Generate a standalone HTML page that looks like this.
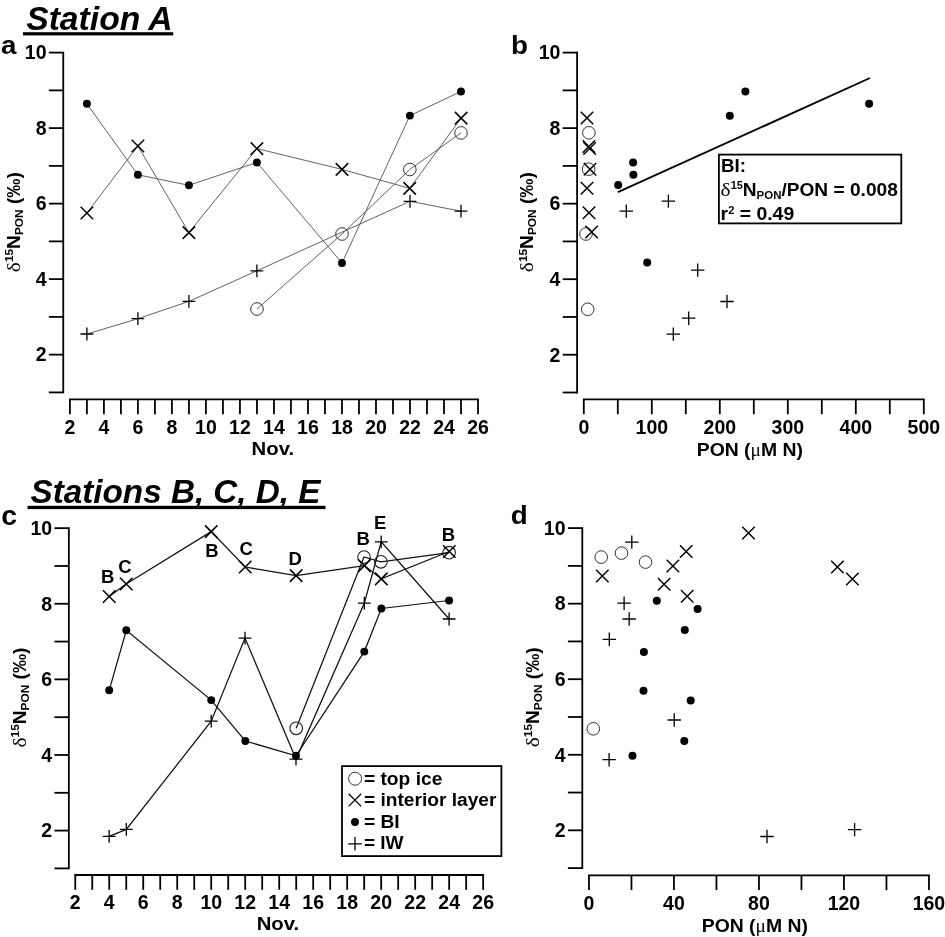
<!DOCTYPE html>
<html><head><meta charset="utf-8"><title>Figure</title>
<style>html,body{margin:0;padding:0;background:#fff;}svg{display:block;filter:grayscale(1) blur(0.3px);}</style>
</head><body>
<svg width="945" height="937" viewBox="0 0 945 937" font-family='"Liberation Sans", sans-serif' fill="#000">
<rect width="945" height="937" fill="#fff"/>
<text x="26.2" y="29.9" font-size="33" font-weight="bold" font-style="italic" textLength="146.5" lengthAdjust="spacingAndGlyphs">Station A</text>
<rect x="23.0" y="32.2" width="150.2" height="3.2" fill="#000"/>
<text x="30.5" y="503.3" font-size="33" font-weight="bold" font-style="italic" textLength="290" lengthAdjust="spacingAndGlyphs">Stations B, C, D, E</text>
<rect x="27.5" y="505.8" width="298" height="3.3" fill="#000"/>
<text transform="translate(1.00,54.30) scale(1.04,1)" font-size="26.7" font-weight="bold" font-style="normal" text-anchor="start" >a</text>
<text transform="translate(511.00,54.40) scale(1.04,1)" font-size="26.7" font-weight="bold" font-style="normal" text-anchor="start" >b</text>
<text transform="translate(1.30,524.50) scale(1.06,1)" font-size="26.7" font-weight="bold" font-style="normal" text-anchor="start" >c</text>
<text transform="translate(510.80,524.10) scale(1.04,1)" font-size="26.7" font-weight="bold" font-style="normal" text-anchor="start" >d</text>
<line x1="63.25" y1="51.70" x2="63.25" y2="393.30" stroke="#000" stroke-width="1.8"/>
<line x1="48.85" y1="392.40" x2="63.25" y2="392.40" stroke="#000" stroke-width="1.8"/>
<line x1="48.85" y1="354.64" x2="63.25" y2="354.64" stroke="#000" stroke-width="1.8"/>
<text transform="translate(46.50,361.44) scale(1.0,1)" font-size="19.5" font-weight="bold" font-style="normal" text-anchor="end" >2</text>
<line x1="48.85" y1="316.89" x2="63.25" y2="316.89" stroke="#000" stroke-width="1.8"/>
<line x1="48.85" y1="279.13" x2="63.25" y2="279.13" stroke="#000" stroke-width="1.8"/>
<text transform="translate(46.50,285.93) scale(1.0,1)" font-size="19.5" font-weight="bold" font-style="normal" text-anchor="end" >4</text>
<line x1="48.85" y1="241.38" x2="63.25" y2="241.38" stroke="#000" stroke-width="1.8"/>
<line x1="48.85" y1="203.62" x2="63.25" y2="203.62" stroke="#000" stroke-width="1.8"/>
<text transform="translate(46.50,210.42) scale(1.0,1)" font-size="19.5" font-weight="bold" font-style="normal" text-anchor="end" >6</text>
<line x1="48.85" y1="165.87" x2="63.25" y2="165.87" stroke="#000" stroke-width="1.8"/>
<line x1="48.85" y1="128.11" x2="63.25" y2="128.11" stroke="#000" stroke-width="1.8"/>
<text transform="translate(46.50,134.91) scale(1.0,1)" font-size="19.5" font-weight="bold" font-style="normal" text-anchor="end" >8</text>
<line x1="48.85" y1="90.36" x2="63.25" y2="90.36" stroke="#000" stroke-width="1.8"/>
<line x1="48.85" y1="52.60" x2="63.25" y2="52.60" stroke="#000" stroke-width="1.8"/>
<text transform="translate(46.50,59.40) scale(1.0,1)" font-size="19.5" font-weight="bold" font-style="normal" text-anchor="end" >10</text>
<line x1="69.00" y1="399.4" x2="478.90" y2="399.4" stroke="#000" stroke-width="1.8"/>
<line x1="69.90" y1="399.40" x2="69.90" y2="414.20" stroke="#000" stroke-width="1.8"/>
<text transform="translate(69.90,433.60) scale(1.0,1)" font-size="19.5" font-weight="bold" font-style="normal" text-anchor="middle" >2</text>
<line x1="86.90" y1="399.40" x2="86.90" y2="414.20" stroke="#000" stroke-width="1.8"/>
<line x1="103.91" y1="399.40" x2="103.91" y2="414.20" stroke="#000" stroke-width="1.8"/>
<text transform="translate(103.91,433.60) scale(1.0,1)" font-size="19.5" font-weight="bold" font-style="normal" text-anchor="middle" >4</text>
<line x1="120.91" y1="399.40" x2="120.91" y2="414.20" stroke="#000" stroke-width="1.8"/>
<line x1="137.92" y1="399.40" x2="137.92" y2="414.20" stroke="#000" stroke-width="1.8"/>
<text transform="translate(137.92,433.60) scale(1.0,1)" font-size="19.5" font-weight="bold" font-style="normal" text-anchor="middle" >6</text>
<line x1="154.92" y1="399.40" x2="154.92" y2="414.20" stroke="#000" stroke-width="1.8"/>
<line x1="171.93" y1="399.40" x2="171.93" y2="414.20" stroke="#000" stroke-width="1.8"/>
<text transform="translate(171.93,433.60) scale(1.0,1)" font-size="19.5" font-weight="bold" font-style="normal" text-anchor="middle" >8</text>
<line x1="188.93" y1="399.40" x2="188.93" y2="414.20" stroke="#000" stroke-width="1.8"/>
<line x1="205.93" y1="399.40" x2="205.93" y2="414.20" stroke="#000" stroke-width="1.8"/>
<text transform="translate(205.93,433.60) scale(1.0,1)" font-size="19.5" font-weight="bold" font-style="normal" text-anchor="middle" >10</text>
<line x1="222.94" y1="399.40" x2="222.94" y2="414.20" stroke="#000" stroke-width="1.8"/>
<line x1="239.94" y1="399.40" x2="239.94" y2="414.20" stroke="#000" stroke-width="1.8"/>
<text transform="translate(239.94,433.60) scale(1.0,1)" font-size="19.5" font-weight="bold" font-style="normal" text-anchor="middle" >12</text>
<line x1="256.95" y1="399.40" x2="256.95" y2="414.20" stroke="#000" stroke-width="1.8"/>
<line x1="273.95" y1="399.40" x2="273.95" y2="414.20" stroke="#000" stroke-width="1.8"/>
<text transform="translate(273.95,433.60) scale(1.0,1)" font-size="19.5" font-weight="bold" font-style="normal" text-anchor="middle" >14</text>
<line x1="290.95" y1="399.40" x2="290.95" y2="414.20" stroke="#000" stroke-width="1.8"/>
<line x1="307.96" y1="399.40" x2="307.96" y2="414.20" stroke="#000" stroke-width="1.8"/>
<text transform="translate(307.96,433.60) scale(1.0,1)" font-size="19.5" font-weight="bold" font-style="normal" text-anchor="middle" >16</text>
<line x1="324.96" y1="399.40" x2="324.96" y2="414.20" stroke="#000" stroke-width="1.8"/>
<line x1="341.97" y1="399.40" x2="341.97" y2="414.20" stroke="#000" stroke-width="1.8"/>
<text transform="translate(341.97,433.60) scale(1.0,1)" font-size="19.5" font-weight="bold" font-style="normal" text-anchor="middle" >18</text>
<line x1="358.97" y1="399.40" x2="358.97" y2="414.20" stroke="#000" stroke-width="1.8"/>
<line x1="375.98" y1="399.40" x2="375.98" y2="414.20" stroke="#000" stroke-width="1.8"/>
<text transform="translate(375.98,433.60) scale(1.0,1)" font-size="19.5" font-weight="bold" font-style="normal" text-anchor="middle" >20</text>
<line x1="392.98" y1="399.40" x2="392.98" y2="414.20" stroke="#000" stroke-width="1.8"/>
<line x1="409.98" y1="399.40" x2="409.98" y2="414.20" stroke="#000" stroke-width="1.8"/>
<text transform="translate(409.98,433.60) scale(1.0,1)" font-size="19.5" font-weight="bold" font-style="normal" text-anchor="middle" >22</text>
<line x1="426.99" y1="399.40" x2="426.99" y2="414.20" stroke="#000" stroke-width="1.8"/>
<line x1="443.99" y1="399.40" x2="443.99" y2="414.20" stroke="#000" stroke-width="1.8"/>
<text transform="translate(443.99,433.60) scale(1.0,1)" font-size="19.5" font-weight="bold" font-style="normal" text-anchor="middle" >24</text>
<line x1="461.00" y1="399.40" x2="461.00" y2="414.20" stroke="#000" stroke-width="1.8"/>
<line x1="478.00" y1="399.40" x2="478.00" y2="414.20" stroke="#000" stroke-width="1.8"/>
<text transform="translate(478.00,433.60) scale(1.0,1)" font-size="19.5" font-weight="bold" font-style="normal" text-anchor="middle" >26</text>
<text transform="translate(272.80,455.30) scale(1.07,1)" font-size="19" font-weight="bold" font-style="normal" text-anchor="middle" >Nov.</text>
<g transform="translate(19.50,222.20) rotate(-90)"><text x="0" y="0" text-anchor="middle" font-size="17.5" font-weight="bold" textLength="100.0" lengthAdjust="spacingAndGlyphs"><tspan font-family='"Liberation Serif", serif' font-weight="normal" font-size="19.6">δ</tspan><tspan font-size="10.85" dy="-6.2">15</tspan><tspan dy="6.2">N</tspan><tspan font-size="10.85" dy="3.2">PON</tspan><tspan dy="-3.2"> (‰)</tspan></text></g>
<polyline points="86.90,103.80 137.90,174.80 188.90,185.30 256.90,162.50 342.00,263.00 409.90,115.60 461.00,91.50" fill="none" stroke="#5a5a5a" stroke-width="0.95"/>
<polyline points="86.90,213.00 137.90,146.00 188.90,232.60 256.90,148.60 342.00,169.40 409.70,188.40 461.10,118.10" fill="none" stroke="#5a5a5a" stroke-width="0.95"/>
<polyline points="86.90,334.00 137.90,318.70 188.90,301.40 256.90,270.80 410.00,201.30 461.00,211.20" fill="none" stroke="#5a5a5a" stroke-width="0.95"/>
<polyline points="257.00,309.00 342.00,234.00 409.80,169.50 461.00,132.90" fill="none" stroke="#5a5a5a" stroke-width="0.95"/>
<circle cx="257.00" cy="309.00" r="6.3" fill="none" stroke="#333" stroke-width="1.0"/>
<circle cx="342.00" cy="234.00" r="6.3" fill="none" stroke="#333" stroke-width="1.0"/>
<circle cx="409.80" cy="169.50" r="6.3" fill="none" stroke="#333" stroke-width="1.0"/>
<circle cx="461.00" cy="132.90" r="6.3" fill="none" stroke="#333" stroke-width="1.0"/>
<circle cx="86.90" cy="103.80" r="3.95" fill="#000"/>
<circle cx="137.90" cy="174.80" r="3.95" fill="#000"/>
<circle cx="188.90" cy="185.30" r="3.95" fill="#000"/>
<circle cx="256.90" cy="162.50" r="3.95" fill="#000"/>
<circle cx="342.00" cy="263.00" r="3.95" fill="#000"/>
<circle cx="409.90" cy="115.60" r="3.95" fill="#000"/>
<circle cx="461.00" cy="91.50" r="3.95" fill="#000"/>
<path d="M80.65 206.75L93.15 219.25M80.65 219.25L93.15 206.75" stroke="#000" stroke-width="1.5" fill="none"/>
<path d="M131.65 139.75L144.15 152.25M131.65 152.25L144.15 139.75" stroke="#000" stroke-width="1.5" fill="none"/>
<path d="M182.65 226.35L195.15 238.85M182.65 238.85L195.15 226.35" stroke="#000" stroke-width="1.5" fill="none"/>
<path d="M250.65 142.35L263.15 154.85M250.65 154.85L263.15 142.35" stroke="#000" stroke-width="1.5" fill="none"/>
<path d="M335.75 163.15L348.25 175.65M335.75 175.65L348.25 163.15" stroke="#000" stroke-width="1.5" fill="none"/>
<path d="M403.45 182.15L415.95 194.65M403.45 194.65L415.95 182.15" stroke="#000" stroke-width="1.5" fill="none"/>
<path d="M454.85 111.85L467.35 124.35M454.85 124.35L467.35 111.85" stroke="#000" stroke-width="1.5" fill="none"/>
<path d="M80.50 334.00L93.30 334.00M86.90 327.60L86.90 340.40" stroke="#000" stroke-width="1.3" fill="none"/>
<path d="M131.50 318.70L144.30 318.70M137.90 312.30L137.90 325.10" stroke="#000" stroke-width="1.3" fill="none"/>
<path d="M182.50 301.40L195.30 301.40M188.90 295.00L188.90 307.80" stroke="#000" stroke-width="1.3" fill="none"/>
<path d="M250.50 270.80L263.30 270.80M256.90 264.40L256.90 277.20" stroke="#000" stroke-width="1.3" fill="none"/>
<path d="M403.60 201.30L416.40 201.30M410.00 194.90L410.00 207.70" stroke="#000" stroke-width="1.3" fill="none"/>
<path d="M454.60 211.20L467.40 211.20M461.00 204.80L461.00 217.60" stroke="#000" stroke-width="1.3" fill="none"/>
<line x1="577.1" y1="51.70" x2="577.1" y2="393.40" stroke="#000" stroke-width="1.8"/>
<line x1="562.70" y1="392.50" x2="577.10" y2="392.50" stroke="#000" stroke-width="1.8"/>
<line x1="562.70" y1="354.73" x2="577.10" y2="354.73" stroke="#000" stroke-width="1.8"/>
<text transform="translate(560.35,361.53) scale(1.0,1)" font-size="19.5" font-weight="bold" font-style="normal" text-anchor="end" >2</text>
<line x1="562.70" y1="316.97" x2="577.10" y2="316.97" stroke="#000" stroke-width="1.8"/>
<line x1="562.70" y1="279.20" x2="577.10" y2="279.20" stroke="#000" stroke-width="1.8"/>
<text transform="translate(560.35,286.00) scale(1.0,1)" font-size="19.5" font-weight="bold" font-style="normal" text-anchor="end" >4</text>
<line x1="562.70" y1="241.43" x2="577.10" y2="241.43" stroke="#000" stroke-width="1.8"/>
<line x1="562.70" y1="203.67" x2="577.10" y2="203.67" stroke="#000" stroke-width="1.8"/>
<text transform="translate(560.35,210.47) scale(1.0,1)" font-size="19.5" font-weight="bold" font-style="normal" text-anchor="end" >6</text>
<line x1="562.70" y1="165.90" x2="577.10" y2="165.90" stroke="#000" stroke-width="1.8"/>
<line x1="562.70" y1="128.13" x2="577.10" y2="128.13" stroke="#000" stroke-width="1.8"/>
<text transform="translate(560.35,134.93) scale(1.0,1)" font-size="19.5" font-weight="bold" font-style="normal" text-anchor="end" >8</text>
<line x1="562.70" y1="90.37" x2="577.10" y2="90.37" stroke="#000" stroke-width="1.8"/>
<line x1="562.70" y1="52.60" x2="577.10" y2="52.60" stroke="#000" stroke-width="1.8"/>
<text transform="translate(560.35,59.40) scale(1.0,1)" font-size="19.5" font-weight="bold" font-style="normal" text-anchor="end" >10</text>
<line x1="582.90" y1="399.4" x2="924.70" y2="399.4" stroke="#000" stroke-width="1.8"/>
<line x1="583.80" y1="399.40" x2="583.80" y2="414.20" stroke="#000" stroke-width="1.8"/>
<text transform="translate(583.80,433.60) scale(1.0,1)" font-size="19.5" font-weight="bold" font-style="normal" text-anchor="middle" >0</text>
<line x1="617.80" y1="399.40" x2="617.80" y2="414.20" stroke="#000" stroke-width="1.8"/>
<line x1="651.80" y1="399.40" x2="651.80" y2="414.20" stroke="#000" stroke-width="1.8"/>
<text transform="translate(651.80,433.60) scale(1.0,1)" font-size="19.5" font-weight="bold" font-style="normal" text-anchor="middle" >100</text>
<line x1="685.80" y1="399.40" x2="685.80" y2="414.20" stroke="#000" stroke-width="1.8"/>
<line x1="719.80" y1="399.40" x2="719.80" y2="414.20" stroke="#000" stroke-width="1.8"/>
<text transform="translate(719.80,433.60) scale(1.0,1)" font-size="19.5" font-weight="bold" font-style="normal" text-anchor="middle" >200</text>
<line x1="753.80" y1="399.40" x2="753.80" y2="414.20" stroke="#000" stroke-width="1.8"/>
<line x1="787.80" y1="399.40" x2="787.80" y2="414.20" stroke="#000" stroke-width="1.8"/>
<text transform="translate(787.80,433.60) scale(1.0,1)" font-size="19.5" font-weight="bold" font-style="normal" text-anchor="middle" >300</text>
<line x1="821.80" y1="399.40" x2="821.80" y2="414.20" stroke="#000" stroke-width="1.8"/>
<line x1="855.80" y1="399.40" x2="855.80" y2="414.20" stroke="#000" stroke-width="1.8"/>
<text transform="translate(855.80,433.60) scale(1.0,1)" font-size="19.5" font-weight="bold" font-style="normal" text-anchor="middle" >400</text>
<line x1="889.80" y1="399.40" x2="889.80" y2="414.20" stroke="#000" stroke-width="1.8"/>
<line x1="923.80" y1="399.40" x2="923.80" y2="414.20" stroke="#000" stroke-width="1.8"/>
<text transform="translate(923.80,433.60) scale(1.0,1)" font-size="19.5" font-weight="bold" font-style="normal" text-anchor="middle" >500</text>
<text transform="translate(749.8,456.2) scale(1.02,1)" font-size="19" font-weight="bold" text-anchor="middle">PON (<tspan font-family='"Liberation Serif", serif' font-weight="normal">μ</tspan>M N)</text>
<g transform="translate(533.00,222.20) rotate(-90)"><text x="0" y="0" text-anchor="middle" font-size="17.5" font-weight="bold" textLength="100.0" lengthAdjust="spacingAndGlyphs"><tspan font-family='"Liberation Serif", serif' font-weight="normal" font-size="19.6">δ</tspan><tspan font-size="10.85" dy="-6.2">15</tspan><tspan dy="6.2">N</tspan><tspan font-size="10.85" dy="3.2">PON</tspan><tspan dy="-3.2"> (‰)</tspan></text></g>
<circle cx="588.90" cy="132.80" r="6.3" fill="none" stroke="#333" stroke-width="1.0"/>
<circle cx="588.60" cy="169.20" r="6.3" fill="none" stroke="#333" stroke-width="1.0"/>
<circle cx="586.00" cy="234.00" r="6.3" fill="none" stroke="#333" stroke-width="1.0"/>
<circle cx="587.70" cy="309.30" r="6.3" fill="none" stroke="#333" stroke-width="1.0"/>
<path d="M580.75 111.75L593.25 124.25M580.75 124.25L593.25 111.75" stroke="#000" stroke-width="1.45" fill="none"/>
<path d="M582.65 140.25L595.15 152.75M582.65 152.75L595.15 140.25" stroke="#000" stroke-width="1.45" fill="none"/>
<path d="M583.35 142.15L595.85 154.65M583.35 154.65L595.85 142.15" stroke="#000" stroke-width="1.45" fill="none"/>
<path d="M583.75 163.05L596.25 175.55M583.75 175.55L596.25 163.05" stroke="#000" stroke-width="1.45" fill="none"/>
<path d="M580.75 181.95L593.25 194.45M580.75 194.45L593.25 181.95" stroke="#000" stroke-width="1.45" fill="none"/>
<path d="M582.75 206.55L595.25 219.05M582.75 219.05L595.25 206.55" stroke="#000" stroke-width="1.45" fill="none"/>
<path d="M585.35 225.85L597.85 238.35M585.35 238.35L597.85 225.85" stroke="#000" stroke-width="1.45" fill="none"/>
<circle cx="618.20" cy="185.10" r="4.0" fill="#000"/>
<circle cx="633.10" cy="162.40" r="4.0" fill="#000"/>
<circle cx="633.40" cy="174.70" r="4.0" fill="#000"/>
<circle cx="647.20" cy="262.40" r="4.0" fill="#000"/>
<circle cx="729.80" cy="115.70" r="4.0" fill="#000"/>
<circle cx="745.40" cy="91.60" r="4.0" fill="#000"/>
<circle cx="869.10" cy="103.80" r="4.0" fill="#000"/>
<path d="M619.60 211.10L633.00 211.10M626.30 204.40L626.30 217.80" stroke="#000" stroke-width="1.3" fill="none"/>
<path d="M661.70 201.10L675.10 201.10M668.40 194.40L668.40 207.80" stroke="#000" stroke-width="1.3" fill="none"/>
<path d="M691.00 270.10L704.40 270.10M697.70 263.40L697.70 276.80" stroke="#000" stroke-width="1.3" fill="none"/>
<path d="M720.30 301.50L733.70 301.50M727.00 294.80L727.00 308.20" stroke="#000" stroke-width="1.3" fill="none"/>
<path d="M682.00 318.20L695.40 318.20M688.70 311.50L688.70 324.90" stroke="#000" stroke-width="1.3" fill="none"/>
<path d="M666.60 334.10L680.00 334.10M673.30 327.40L673.30 340.80" stroke="#000" stroke-width="1.3" fill="none"/>
<line x1="617.9" y1="192.2" x2="870.0" y2="78.0" stroke="#000" stroke-width="1.9"/>
<rect x="718.9" y="154.6" width="182.4" height="68.8" fill="#fff" stroke="#000" stroke-width="1.8"/>
<text transform="translate(721.00,171.50) scale(1.07,1)" font-size="17.5" font-weight="bold" font-style="normal" text-anchor="start" >BI:</text>
<text x="720.6" y="196.0" font-size="17.5" font-weight="bold" textLength="177.2" lengthAdjust="spacingAndGlyphs"><tspan font-family='"Liberation Serif", serif' font-weight="normal" font-size="19.5">δ</tspan><tspan font-size="10.0" dy="-6.6">15</tspan><tspan dy="6.6">N</tspan><tspan font-size="10.5" dy="3.4">PON</tspan><tspan dy="-3.4">/PON = 0.008</tspan></text>
<text x="720.6" y="220.1" font-size="17.5" font-weight="bold" textLength="73.6" lengthAdjust="spacingAndGlyphs">r<tspan font-size="10.0" dy="-6.6">2</tspan><tspan dy="6.6"> = 0.49</tspan></text>
<line x1="68.85" y1="527.25" x2="68.85" y2="869.30" stroke="#000" stroke-width="1.8"/>
<line x1="54.45" y1="868.40" x2="68.85" y2="868.40" stroke="#000" stroke-width="1.8"/>
<line x1="54.45" y1="830.59" x2="68.85" y2="830.59" stroke="#000" stroke-width="1.8"/>
<text transform="translate(52.10,837.39) scale(1.0,1)" font-size="19.5" font-weight="bold" font-style="normal" text-anchor="end" >2</text>
<line x1="54.45" y1="792.79" x2="68.85" y2="792.79" stroke="#000" stroke-width="1.8"/>
<line x1="54.45" y1="754.98" x2="68.85" y2="754.98" stroke="#000" stroke-width="1.8"/>
<text transform="translate(52.10,761.78) scale(1.0,1)" font-size="19.5" font-weight="bold" font-style="normal" text-anchor="end" >4</text>
<line x1="54.45" y1="717.18" x2="68.85" y2="717.18" stroke="#000" stroke-width="1.8"/>
<line x1="54.45" y1="679.37" x2="68.85" y2="679.37" stroke="#000" stroke-width="1.8"/>
<text transform="translate(52.10,686.17) scale(1.0,1)" font-size="19.5" font-weight="bold" font-style="normal" text-anchor="end" >6</text>
<line x1="54.45" y1="641.57" x2="68.85" y2="641.57" stroke="#000" stroke-width="1.8"/>
<line x1="54.45" y1="603.76" x2="68.85" y2="603.76" stroke="#000" stroke-width="1.8"/>
<text transform="translate(52.10,610.56) scale(1.0,1)" font-size="19.5" font-weight="bold" font-style="normal" text-anchor="end" >8</text>
<line x1="54.45" y1="565.96" x2="68.85" y2="565.96" stroke="#000" stroke-width="1.8"/>
<line x1="54.45" y1="528.15" x2="68.85" y2="528.15" stroke="#000" stroke-width="1.8"/>
<text transform="translate(52.10,534.95) scale(1.0,1)" font-size="19.5" font-weight="bold" font-style="normal" text-anchor="end" >10</text>
<line x1="74.35" y1="875.0" x2="484.05" y2="875.0" stroke="#000" stroke-width="1.8"/>
<line x1="75.25" y1="875.00" x2="75.25" y2="889.80" stroke="#000" stroke-width="1.8"/>
<text transform="translate(75.25,909.20) scale(1.0,1)" font-size="19.5" font-weight="bold" font-style="normal" text-anchor="middle" >2</text>
<line x1="92.25" y1="875.00" x2="92.25" y2="889.80" stroke="#000" stroke-width="1.8"/>
<line x1="109.24" y1="875.00" x2="109.24" y2="889.80" stroke="#000" stroke-width="1.8"/>
<text transform="translate(109.24,909.20) scale(1.0,1)" font-size="19.5" font-weight="bold" font-style="normal" text-anchor="middle" >4</text>
<line x1="126.24" y1="875.00" x2="126.24" y2="889.80" stroke="#000" stroke-width="1.8"/>
<line x1="143.23" y1="875.00" x2="143.23" y2="889.80" stroke="#000" stroke-width="1.8"/>
<text transform="translate(143.23,909.20) scale(1.0,1)" font-size="19.5" font-weight="bold" font-style="normal" text-anchor="middle" >6</text>
<line x1="160.23" y1="875.00" x2="160.23" y2="889.80" stroke="#000" stroke-width="1.8"/>
<line x1="177.22" y1="875.00" x2="177.22" y2="889.80" stroke="#000" stroke-width="1.8"/>
<text transform="translate(177.22,909.20) scale(1.0,1)" font-size="19.5" font-weight="bold" font-style="normal" text-anchor="middle" >8</text>
<line x1="194.22" y1="875.00" x2="194.22" y2="889.80" stroke="#000" stroke-width="1.8"/>
<line x1="211.22" y1="875.00" x2="211.22" y2="889.80" stroke="#000" stroke-width="1.8"/>
<text transform="translate(211.22,909.20) scale(1.0,1)" font-size="19.5" font-weight="bold" font-style="normal" text-anchor="middle" >10</text>
<line x1="228.21" y1="875.00" x2="228.21" y2="889.80" stroke="#000" stroke-width="1.8"/>
<line x1="245.21" y1="875.00" x2="245.21" y2="889.80" stroke="#000" stroke-width="1.8"/>
<text transform="translate(245.21,909.20) scale(1.0,1)" font-size="19.5" font-weight="bold" font-style="normal" text-anchor="middle" >12</text>
<line x1="262.20" y1="875.00" x2="262.20" y2="889.80" stroke="#000" stroke-width="1.8"/>
<line x1="279.20" y1="875.00" x2="279.20" y2="889.80" stroke="#000" stroke-width="1.8"/>
<text transform="translate(279.20,909.20) scale(1.0,1)" font-size="19.5" font-weight="bold" font-style="normal" text-anchor="middle" >14</text>
<line x1="296.20" y1="875.00" x2="296.20" y2="889.80" stroke="#000" stroke-width="1.8"/>
<line x1="313.19" y1="875.00" x2="313.19" y2="889.80" stroke="#000" stroke-width="1.8"/>
<text transform="translate(313.19,909.20) scale(1.0,1)" font-size="19.5" font-weight="bold" font-style="normal" text-anchor="middle" >16</text>
<line x1="330.19" y1="875.00" x2="330.19" y2="889.80" stroke="#000" stroke-width="1.8"/>
<line x1="347.18" y1="875.00" x2="347.18" y2="889.80" stroke="#000" stroke-width="1.8"/>
<text transform="translate(347.18,909.20) scale(1.0,1)" font-size="19.5" font-weight="bold" font-style="normal" text-anchor="middle" >18</text>
<line x1="364.18" y1="875.00" x2="364.18" y2="889.80" stroke="#000" stroke-width="1.8"/>
<line x1="381.18" y1="875.00" x2="381.18" y2="889.80" stroke="#000" stroke-width="1.8"/>
<text transform="translate(381.18,909.20) scale(1.0,1)" font-size="19.5" font-weight="bold" font-style="normal" text-anchor="middle" >20</text>
<line x1="398.17" y1="875.00" x2="398.17" y2="889.80" stroke="#000" stroke-width="1.8"/>
<line x1="415.17" y1="875.00" x2="415.17" y2="889.80" stroke="#000" stroke-width="1.8"/>
<text transform="translate(415.17,909.20) scale(1.0,1)" font-size="19.5" font-weight="bold" font-style="normal" text-anchor="middle" >22</text>
<line x1="432.16" y1="875.00" x2="432.16" y2="889.80" stroke="#000" stroke-width="1.8"/>
<line x1="449.16" y1="875.00" x2="449.16" y2="889.80" stroke="#000" stroke-width="1.8"/>
<text transform="translate(449.16,909.20) scale(1.0,1)" font-size="19.5" font-weight="bold" font-style="normal" text-anchor="middle" >24</text>
<line x1="466.15" y1="875.00" x2="466.15" y2="889.80" stroke="#000" stroke-width="1.8"/>
<line x1="483.15" y1="875.00" x2="483.15" y2="889.80" stroke="#000" stroke-width="1.8"/>
<text transform="translate(483.15,909.20) scale(1.0,1)" font-size="19.5" font-weight="bold" font-style="normal" text-anchor="middle" >26</text>
<text transform="translate(277.90,930.30) scale(1.07,1)" font-size="19" font-weight="bold" font-style="normal" text-anchor="middle" >Nov.</text>
<g transform="translate(25.50,697.50) rotate(-90)"><text x="0" y="0" text-anchor="middle" font-size="17.5" font-weight="bold" textLength="100.0" lengthAdjust="spacingAndGlyphs"><tspan font-family='"Liberation Serif", serif' font-weight="normal" font-size="19.6">δ</tspan><tspan font-size="10.85" dy="-6.2">15</tspan><tspan dy="6.2">N</tspan><tspan font-size="10.85" dy="3.2">PON</tspan><tspan dy="-3.2"> (‰)</tspan></text></g>
<polyline points="109.20,596.50 126.20,584.00 211.20,531.60 245.20,567.00 296.10,575.60 364.40,565.60 381.30,578.90 449.30,551.50" fill="none" stroke="#111" stroke-width="1.25"/>
<polyline points="109.20,690.30 126.30,630.30 211.20,700.10 245.30,741.00 296.00,755.80 364.30,651.60 381.40,608.50 449.10,600.50" fill="none" stroke="#111" stroke-width="1.25"/>
<polyline points="109.20,836.30 126.30,829.40 211.20,721.20 245.00,638.10 296.00,759.10 364.30,603.20 381.20,541.80 449.10,619.00" fill="none" stroke="#111" stroke-width="1.25"/>
<polyline points="296.20,728.30 364.00,557.00 380.90,561.80 449.10,552.70" fill="none" stroke="#111" stroke-width="1.25"/>
<circle cx="296.20" cy="728.30" r="6.3" fill="none" stroke="#222" stroke-width="1.1"/>
<circle cx="364.00" cy="557.00" r="6.3" fill="none" stroke="#222" stroke-width="1.1"/>
<circle cx="380.90" cy="561.80" r="6.3" fill="none" stroke="#222" stroke-width="1.1"/>
<circle cx="449.10" cy="552.70" r="6.3" fill="none" stroke="#222" stroke-width="1.1"/>
<circle cx="109.20" cy="690.30" r="3.95" fill="#000"/>
<circle cx="126.30" cy="630.30" r="3.95" fill="#000"/>
<circle cx="211.20" cy="700.10" r="3.95" fill="#000"/>
<circle cx="245.30" cy="741.00" r="3.95" fill="#000"/>
<circle cx="296.00" cy="755.80" r="3.95" fill="#000"/>
<circle cx="364.30" cy="651.60" r="3.95" fill="#000"/>
<circle cx="381.40" cy="608.50" r="3.95" fill="#000"/>
<circle cx="449.10" cy="600.50" r="3.95" fill="#000"/>
<path d="M102.95 590.25L115.45 602.75M102.95 602.75L115.45 590.25" stroke="#000" stroke-width="1.5" fill="none"/>
<path d="M119.95 577.75L132.45 590.25M119.95 590.25L132.45 577.75" stroke="#000" stroke-width="1.5" fill="none"/>
<path d="M204.95 525.35L217.45 537.85M204.95 537.85L217.45 525.35" stroke="#000" stroke-width="1.5" fill="none"/>
<path d="M238.95 560.75L251.45 573.25M238.95 573.25L251.45 560.75" stroke="#000" stroke-width="1.5" fill="none"/>
<path d="M289.85 569.35L302.35 581.85M289.85 581.85L302.35 569.35" stroke="#000" stroke-width="1.5" fill="none"/>
<path d="M358.15 559.35L370.65 571.85M358.15 571.85L370.65 559.35" stroke="#000" stroke-width="1.5" fill="none"/>
<path d="M375.05 572.65L387.55 585.15M375.05 585.15L387.55 572.65" stroke="#000" stroke-width="1.5" fill="none"/>
<path d="M443.05 545.25L455.55 557.75M443.05 557.75L455.55 545.25" stroke="#000" stroke-width="1.5" fill="none"/>
<path d="M102.80 836.30L115.60 836.30M109.20 829.90L109.20 842.70" stroke="#000" stroke-width="1.3" fill="none"/>
<path d="M119.90 829.40L132.70 829.40M126.30 823.00L126.30 835.80" stroke="#000" stroke-width="1.3" fill="none"/>
<path d="M204.80 721.20L217.60 721.20M211.20 714.80L211.20 727.60" stroke="#000" stroke-width="1.3" fill="none"/>
<path d="M238.60 638.10L251.40 638.10M245.00 631.70L245.00 644.50" stroke="#000" stroke-width="1.3" fill="none"/>
<path d="M289.60 759.10L302.40 759.10M296.00 752.70L296.00 765.50" stroke="#000" stroke-width="1.3" fill="none"/>
<path d="M357.90 603.20L370.70 603.20M364.30 596.80L364.30 609.60" stroke="#000" stroke-width="1.3" fill="none"/>
<path d="M374.80 541.80L387.60 541.80M381.20 535.40L381.20 548.20" stroke="#000" stroke-width="1.3" fill="none"/>
<path d="M442.70 619.00L455.50 619.00M449.10 612.60L449.10 625.40" stroke="#000" stroke-width="1.3" fill="none"/>
<text transform="translate(107.60,582.70) scale(1.0,1)" font-size="18.5" font-weight="bold" font-style="normal" text-anchor="middle" >B</text>
<text transform="translate(125.00,572.50) scale(1.0,1)" font-size="18.5" font-weight="bold" font-style="normal" text-anchor="middle" >C</text>
<text transform="translate(211.90,557.40) scale(1.0,1)" font-size="18.5" font-weight="bold" font-style="normal" text-anchor="middle" >B</text>
<text transform="translate(246.30,555.20) scale(1.0,1)" font-size="18.5" font-weight="bold" font-style="normal" text-anchor="middle" >C</text>
<text transform="translate(295.30,565.00) scale(1.0,1)" font-size="18.5" font-weight="bold" font-style="normal" text-anchor="middle" >D</text>
<text transform="translate(363.30,544.90) scale(1.0,1)" font-size="18.5" font-weight="bold" font-style="normal" text-anchor="middle" >B</text>
<text transform="translate(380.20,529.00) scale(1.0,1)" font-size="18.5" font-weight="bold" font-style="normal" text-anchor="middle" >E</text>
<text transform="translate(448.50,540.50) scale(1.0,1)" font-size="18.5" font-weight="bold" font-style="normal" text-anchor="middle" >B</text>
<rect x="342.0" y="766.1" width="159.4" height="90.0" fill="#fff" stroke="#000" stroke-width="1.8"/>
<circle cx="355.10" cy="778.70" r="6.5" fill="none" stroke="#333" stroke-width="1.0"/>
<path d="M348.60 793.80L361.20 806.40M348.60 806.40L361.20 793.80" stroke="#000" stroke-width="1.3" fill="none"/>
<circle cx="355.00" cy="822.00" r="4.0" fill="#000"/>
<path d="M348.20 843.80L361.80 843.80M355.00 837.00L355.00 850.60" stroke="#000" stroke-width="1.3" fill="none"/>
<text x="363.9" y="784.5" font-size="18.3" font-weight="bold" textLength="78.5" lengthAdjust="spacingAndGlyphs">= top ice</text>
<text x="363.9" y="806.3" font-size="18.3" font-weight="bold" textLength="132.6" lengthAdjust="spacingAndGlyphs">= interior layer</text>
<text x="363.9" y="827.7" font-size="18.3" font-weight="bold" textLength="35.8" lengthAdjust="spacingAndGlyphs">= BI</text>
<text x="363.9" y="849.2" font-size="18.3" font-weight="bold" textLength="39.7" lengthAdjust="spacingAndGlyphs">= IW</text>
<line x1="582.3" y1="527.20" x2="582.3" y2="869.00" stroke="#000" stroke-width="1.8"/>
<line x1="567.90" y1="868.10" x2="582.30" y2="868.10" stroke="#000" stroke-width="1.8"/>
<line x1="567.90" y1="830.32" x2="582.30" y2="830.32" stroke="#000" stroke-width="1.8"/>
<text transform="translate(565.55,837.12) scale(1.0,1)" font-size="19.5" font-weight="bold" font-style="normal" text-anchor="end" >2</text>
<line x1="567.90" y1="792.54" x2="582.30" y2="792.54" stroke="#000" stroke-width="1.8"/>
<line x1="567.90" y1="754.77" x2="582.30" y2="754.77" stroke="#000" stroke-width="1.8"/>
<text transform="translate(565.55,761.57) scale(1.0,1)" font-size="19.5" font-weight="bold" font-style="normal" text-anchor="end" >4</text>
<line x1="567.90" y1="716.99" x2="582.30" y2="716.99" stroke="#000" stroke-width="1.8"/>
<line x1="567.90" y1="679.21" x2="582.30" y2="679.21" stroke="#000" stroke-width="1.8"/>
<text transform="translate(565.55,686.01) scale(1.0,1)" font-size="19.5" font-weight="bold" font-style="normal" text-anchor="end" >6</text>
<line x1="567.90" y1="641.43" x2="582.30" y2="641.43" stroke="#000" stroke-width="1.8"/>
<line x1="567.90" y1="603.66" x2="582.30" y2="603.66" stroke="#000" stroke-width="1.8"/>
<text transform="translate(565.55,610.46) scale(1.0,1)" font-size="19.5" font-weight="bold" font-style="normal" text-anchor="end" >8</text>
<line x1="567.90" y1="565.88" x2="582.30" y2="565.88" stroke="#000" stroke-width="1.8"/>
<line x1="567.90" y1="528.10" x2="582.30" y2="528.10" stroke="#000" stroke-width="1.8"/>
<text transform="translate(565.55,534.90) scale(1.0,1)" font-size="19.5" font-weight="bold" font-style="normal" text-anchor="end" >10</text>
<line x1="588.05" y1="875.3" x2="929.85" y2="875.3" stroke="#000" stroke-width="1.8"/>
<line x1="588.95" y1="875.30" x2="588.95" y2="890.10" stroke="#000" stroke-width="1.8"/>
<text transform="translate(588.95,909.50) scale(1.0,1)" font-size="19.5" font-weight="bold" font-style="normal" text-anchor="middle" >0</text>
<line x1="631.45" y1="875.30" x2="631.45" y2="890.10" stroke="#000" stroke-width="1.8"/>
<line x1="673.95" y1="875.30" x2="673.95" y2="890.10" stroke="#000" stroke-width="1.8"/>
<text transform="translate(673.95,909.50) scale(1.0,1)" font-size="19.5" font-weight="bold" font-style="normal" text-anchor="middle" >40</text>
<line x1="716.45" y1="875.30" x2="716.45" y2="890.10" stroke="#000" stroke-width="1.8"/>
<line x1="758.95" y1="875.30" x2="758.95" y2="890.10" stroke="#000" stroke-width="1.8"/>
<text transform="translate(758.95,909.50) scale(1.0,1)" font-size="19.5" font-weight="bold" font-style="normal" text-anchor="middle" >80</text>
<line x1="801.45" y1="875.30" x2="801.45" y2="890.10" stroke="#000" stroke-width="1.8"/>
<line x1="843.95" y1="875.30" x2="843.95" y2="890.10" stroke="#000" stroke-width="1.8"/>
<text transform="translate(843.95,909.50) scale(1.0,1)" font-size="19.5" font-weight="bold" font-style="normal" text-anchor="middle" >120</text>
<line x1="886.45" y1="875.30" x2="886.45" y2="890.10" stroke="#000" stroke-width="1.8"/>
<line x1="928.95" y1="875.30" x2="928.95" y2="890.10" stroke="#000" stroke-width="1.8"/>
<text transform="translate(928.95,909.50) scale(1.0,1)" font-size="19.5" font-weight="bold" font-style="normal" text-anchor="middle" >160</text>
<text transform="translate(754.8,931.6) scale(1.02,1)" font-size="19" font-weight="bold" text-anchor="middle">PON (<tspan font-family='"Liberation Serif", serif' font-weight="normal">μ</tspan>M N)</text>
<g transform="translate(538.50,697.30) rotate(-90)"><text x="0" y="0" text-anchor="middle" font-size="17.5" font-weight="bold" textLength="100.0" lengthAdjust="spacingAndGlyphs"><tspan font-family='"Liberation Serif", serif' font-weight="normal" font-size="19.6">δ</tspan><tspan font-size="10.85" dy="-6.2">15</tspan><tspan dy="6.2">N</tspan><tspan font-size="10.85" dy="3.2">PON</tspan><tspan dy="-3.2"> (‰)</tspan></text></g>
<circle cx="601.20" cy="557.10" r="6.3" fill="none" stroke="#333" stroke-width="1.0"/>
<circle cx="621.50" cy="553.10" r="6.3" fill="none" stroke="#333" stroke-width="1.0"/>
<circle cx="645.50" cy="562.10" r="6.3" fill="none" stroke="#333" stroke-width="1.0"/>
<circle cx="593.30" cy="728.80" r="6.3" fill="none" stroke="#333" stroke-width="1.0"/>
<path d="M596.05 569.75L608.55 582.25M596.05 582.25L608.55 569.75" stroke="#000" stroke-width="1.45" fill="none"/>
<path d="M666.65 559.85L679.15 572.35M666.65 572.35L679.15 559.85" stroke="#000" stroke-width="1.45" fill="none"/>
<path d="M679.95 545.25L692.45 557.75M679.95 557.75L692.45 545.25" stroke="#000" stroke-width="1.45" fill="none"/>
<path d="M657.85 577.95L670.35 590.45M657.85 590.45L670.35 577.95" stroke="#000" stroke-width="1.45" fill="none"/>
<path d="M680.95 589.95L693.45 602.45M680.95 602.45L693.45 589.95" stroke="#000" stroke-width="1.45" fill="none"/>
<path d="M742.25 526.65L754.75 539.15M742.25 539.15L754.75 526.65" stroke="#000" stroke-width="1.45" fill="none"/>
<path d="M831.15 560.65L843.65 573.15M831.15 573.15L843.65 560.65" stroke="#000" stroke-width="1.45" fill="none"/>
<path d="M846.15 572.85L858.65 585.35M846.15 585.35L858.65 572.85" stroke="#000" stroke-width="1.45" fill="none"/>
<circle cx="656.80" cy="600.80" r="4.0" fill="#000"/>
<circle cx="697.60" cy="608.90" r="4.0" fill="#000"/>
<circle cx="684.80" cy="630.00" r="4.0" fill="#000"/>
<circle cx="643.90" cy="651.90" r="4.0" fill="#000"/>
<circle cx="643.50" cy="690.70" r="4.0" fill="#000"/>
<circle cx="690.70" cy="700.40" r="4.0" fill="#000"/>
<circle cx="632.50" cy="755.80" r="4.0" fill="#000"/>
<circle cx="684.30" cy="741.10" r="4.0" fill="#000"/>
<path d="M625.10 542.10L638.50 542.10M631.80 535.40L631.80 548.80" stroke="#000" stroke-width="1.3" fill="none"/>
<path d="M617.40 603.20L630.80 603.20M624.10 596.50L624.10 609.90" stroke="#000" stroke-width="1.3" fill="none"/>
<path d="M622.50 619.00L635.90 619.00M629.20 612.30L629.20 625.70" stroke="#000" stroke-width="1.3" fill="none"/>
<path d="M602.60 639.30L616.00 639.30M609.30 632.60L609.30 646.00" stroke="#000" stroke-width="1.3" fill="none"/>
<path d="M667.50 720.00L680.90 720.00M674.20 713.30L674.20 726.70" stroke="#000" stroke-width="1.3" fill="none"/>
<path d="M602.40 759.70L615.80 759.70M609.10 753.00L609.10 766.40" stroke="#000" stroke-width="1.3" fill="none"/>
<path d="M760.30 836.50L773.70 836.50M767.00 829.80L767.00 843.20" stroke="#000" stroke-width="1.3" fill="none"/>
<path d="M847.90 829.60L861.30 829.60M854.60 822.90L854.60 836.30" stroke="#000" stroke-width="1.3" fill="none"/>
</svg>
</body></html>
